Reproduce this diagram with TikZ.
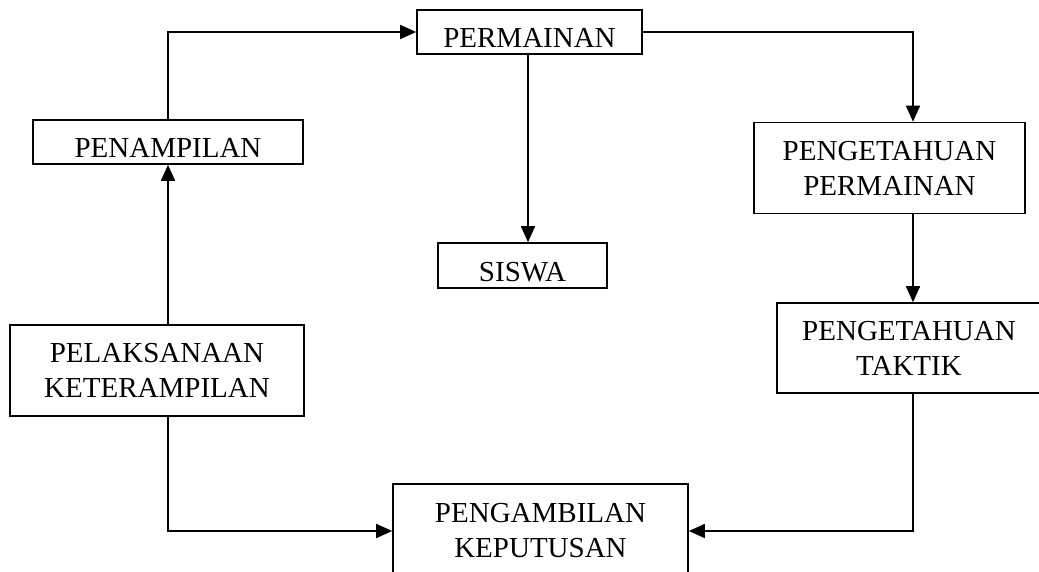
\documentclass[tikz,border=0pt]{standalone}
\usepackage{fontspec}
\setmainfont{Liberation Serif}
\usetikzlibrary{arrows.meta}
\begin{document}
\begin{tikzpicture}[x=1pt,y=-1pt,
  box/.style={draw,line width=1.6pt,rectangle,inner sep=0pt,align=center,
    font=\fontsize{29}{35}\selectfont},
  low/.style={text height=31pt,text depth=0pt},
  conn/.style={line width=1.6pt,-{Triangle[length=16pt,width=14pt]}}]
\useasboundingbox (0,0) rectangle (1039,571);
\node[box,low,minimum width=225pt,minimum height=44pt] (perm) at (529.5,32) {PERMAINAN};
\node[box,low,minimum width=270pt,minimum height=44pt] (penam) at (168,142) {PENAMPILAN};
\node[box,minimum width=271pt,minimum height=91pt] (pp) at (889.5,168) {PENGETAHUAN\\PERMAINAN};
\node[box,low,minimum width=169pt,minimum height=45pt] (siswa) at (522.5,265.5) {SISWA};
\node[box,minimum width=294pt,minimum height=91pt] (pel) at (157,370.5) {PELAKSANAAN\\KETERAMPILAN};
\node[box,minimum width=264pt,minimum height=90pt] (pt) at (909,348) {PENGETAHUAN\\TAKTIK};
\node[box,minimum width=295pt,minimum height=94pt] (peng) at (540.5,531) {PENGAMBILAN\\KEPUTUSAN};
\coordinate (lx) at (168,0);
\coordinate (mx) at (528,0);
\coordinate (rx) at (913,0);
\draw[conn] (penam.north) |- (perm.west);
\draw[conn] (perm.east) -| (pp.north -| rx);
\draw[conn] (perm.south -| mx) -- (siswa.north -| mx);
\draw[conn] (pp.south -| rx) -- (pt.north -| rx);
\draw[conn] (pt.south -| rx) |- (peng.east);
\draw[conn] (pel.south -| lx) |- (peng.west);
\draw[conn] (pel.north -| lx) -- (penam.south);
\end{tikzpicture}
\end{document}
